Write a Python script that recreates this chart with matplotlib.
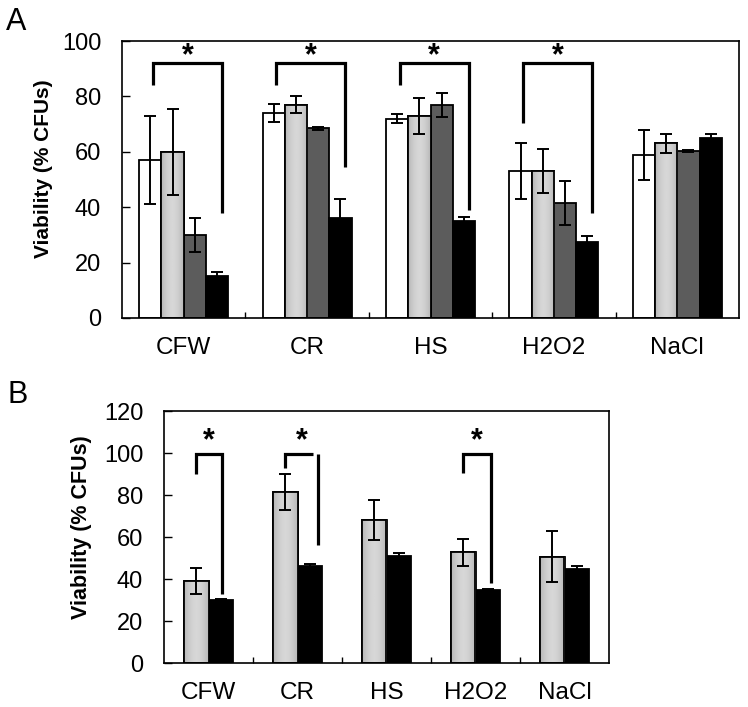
import numpy as np
import matplotlib
matplotlib.use('Agg')
import matplotlib.pyplot as plt

plt.rcParams['font.family'] = ['Liberation Sans', 'DejaVu Sans']

stresses = ['CFW', 'CR', 'HS', 'H2O2', 'NaCl']

# panel A - four strains (white, light grey, dark grey, black)
a_white = [57, 74, 72, 53, 59]
a_white_err = [16, 3.3, 1.5, 10, 9]
a_light = [60, 77, 73, 53, 63]
a_light_err = [15.5, 3, 6.5, 8, 3.3]
a_dark = [30, 68.5, 77, 41.5, 60.3]
a_dark_err = [6, 0.5, 4.3, 8, 0.5]
a_black = [15, 36, 35, 27.5, 65]
a_black_err = [1.5, 7, 1.3, 2, 1.5]

# significance brackets A (group index, left leg end, right leg end)
a_sig_groups = [0, 1, 2, 3]
a_sig_left = [84, 84, 84, 70.4]
a_sig_right = [38, 54.5, 39, 38]
a_sig_top = 92

# panel B - two strains (light grey, black)
b_light = [39, 81.5, 68, 52.7, 50.7]
b_light_err = [6.3, 8.5, 9.5, 6.3, 12]
b_black = [30, 46, 51, 35, 44.7]
b_black_err = [0.5, 1.3, 1.2, 0.4, 1.3]

b_sig_groups = [0, 1, 3]
b_sig_left = [90, 93, 90.5]
b_sig_right = [33, 56, 38]
b_sig_top = 99.5

x = np.arange(len(stresses))
W, H = 748, 707

fig = plt.figure(figsize=(W / 100, H / 100), dpi=100)
axA = fig.add_axes([122 / W, 1 - 318 / H, 617 / W, 277 / H])
axB = fig.add_axes([164 / W, 1 - 663 / H, 445 / W, 252 / H])

# horizontal shading used on the light grey bars (darker edges, lighter middle)
shade = 0.72 + 0.12 * np.sin(np.linspace(0, np.pi, 32))[None, :]


def style(ax, ymax, step):
    ax.set_xlim(-0.5, 4.5)
    ax.set_ylim(0, ymax)
    ax.set_yticks(np.arange(0, ymax + 1, step))
    ax.set_xticks(x)
    ax.set_xticklabels(stresses)
    ax.set_xticks(np.arange(0.5, 4.5, 1), minor=True)
    ax.tick_params(axis='x', which='major', length=0, pad=13.5, labelsize=17.5)
    ax.tick_params(axis='x', which='minor', direction='in', length=4, width=1)
    ax.tick_params(axis='y', direction='in', length=6, width=1, pad=15, labelsize=17)
    for s in ax.spines.values():
        s.set_linewidth(1.2)


def bars(ax, pos, vals, errs, w, color, shaded=False):
    cont = ax.bar(pos, vals, w, color=color, edgecolor='black', linewidth=1.3, zorder=2)
    if shaded:
        for p in cont.patches:
            x0, wd, h = p.get_x(), p.get_width(), p.get_height()
            im = ax.imshow(shade, cmap='gray', vmin=0, vmax=1, aspect='auto',
                           extent=(x0, x0 + wd, 0, h), zorder=2.1)
            im.set_clip_path(p)
            ax.bar(x0 + wd / 2, h, wd, fill=False, edgecolor='black', linewidth=1.3, zorder=2.2)
    ax.errorbar(pos, vals, yerr=errs, fmt='none', ecolor='black', elinewidth=1.4,
                capsize=4, capthick=1.4, zorder=3)


def bracket(ax, xl, xr, yl, yr, top, xh=None, star_y=None):
    if xh is None:
        ax.plot([xl, xl, xr, xr], [yl, top, top, yr], color='black', lw=2.3,
                solid_joinstyle='miter', solid_capstyle='butt', zorder=4)
    else:
        ax.plot([xl, xl, xh], [yl, top, top], color='black', lw=2.3,
                solid_joinstyle='miter', solid_capstyle='butt', zorder=4)
        ax.plot([xr, xr], [top, yr], color='black', lw=2.3, solid_capstyle='butt', zorder=4)
    ax.text((xl + xr) / 2, star_y, '*', ha='center', va='center', fontsize=22,
            fontweight='bold', zorder=5)


# ---- panel A
wa = 0.18
bars(axA, x - 1.5 * wa, a_white, a_white_err, wa, 'white')
bars(axA, x - 0.5 * wa, a_light, a_light_err, wa, '#c6c6c6', shaded=True)
bars(axA, x + 0.5 * wa, a_dark, a_dark_err, wa, '#5c5c5c')
bars(axA, x + 1.5 * wa, a_black, a_black_err, wa, 'black')
for g, yl, yr in zip(a_sig_groups, a_sig_left, a_sig_right):
    bracket(axA, g - 0.25, g + 0.31, yl, yr, a_sig_top, star_y=94.5)
style(axA, 100, 20)
axA.set_ylabel('Viability (% CFUs)', fontsize=15, fontweight='bold')
axA.yaxis.set_label_coords(-0.112, 0.54)

# ---- panel B
wb = 0.28
bars(axB, x - 0.5 * wb, b_light, b_light_err, wb, '#c6c6c6', shaded=True)
bars(axB, x + 0.5 * wb, b_black, b_black_err, wb, 'black')
b_right_off = [0.15, 0.23, 0.17]
b_h_end = [None, 0.17, None]
for g, yl, yr, ro, he in zip(b_sig_groups, b_sig_left, b_sig_right, b_right_off, b_h_end):
    bracket(axB, g - 0.14, g + ro, yl, yr, b_sig_top,
            xh=None if he is None else g + he, star_y=105.5)
style(axB, 120, 20)
axB.set_ylabel('Viability (% CFUs)', fontsize=15.5, fontweight='bold')
axB.yaxis.set_label_coords(-0.162, 0.538)

fig.text(6 / W, 1 - 22 / H, 'A', fontsize=22, va='center', ha='left')
fig.text(7 / W, 1 - 395 / H, 'B', fontsize=22, va='center', ha='left')

fig.savefig('out.png', dpi=100)
